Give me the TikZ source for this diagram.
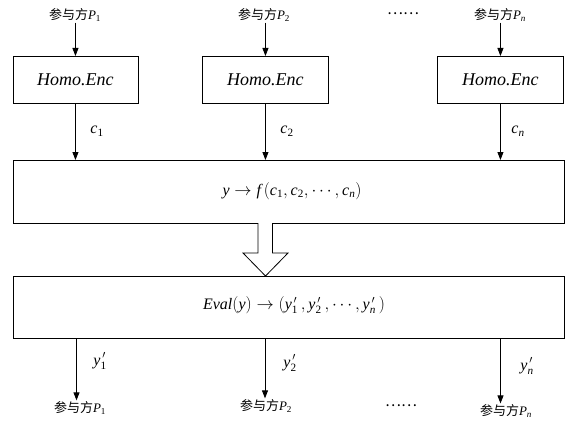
\documentclass[tikz,border=0pt]{standalone}
\usepackage{amstext}
\usepackage{fontspec}
\setmainfont{Liberation Serif}
\newfontfamily\cjk{Noto Sans CJK SC}
\usetikzlibrary{arrows.meta}
\newcommand{\mi}[1]{\textit{#1}}
\newcommand{\dg}[1]{\textrm{#1}}
\begin{document}
\begin{tikzpicture}[x=1pt,y=-1pt,
  box/.style={draw, line width=0.9pt, inner sep=0pt, anchor=north west},
  arr/.style={-{Triangle[length=8pt,width=6pt]}, line width=0.8pt},
  party/.style={font=\fontsize{13}{15}\selectfont, inner sep=1pt},
  lbl/.style={font=\fontsize{16}{18}\selectfont, inner sep=0pt},
  enc/.style={font=\fontsize{18}{20}\selectfont\itshape},
  formula/.style={font=\fontsize{16}{18}\selectfont, inner sep=0pt},
  dotsstyle/.style={font=\fontsize{15}{18}\selectfont\cjk, inner sep=0pt}]
\useasboundingbox (0,0) rectangle (577,425);

% top party labels
\node[party] (p1) at (75,15) {{\cjk 参与方}$\mi{P}_{\dg{1}}$};
\node[party] (p2) at (264,15) {{\cjk 参与方}$\mi{P}_{\dg{2}}$};
\node[party] (pn) at (500,15) {{\cjk 参与方}$\mi{P}_{\mi{n}}$};
\node[dotsstyle] (dt) at (403,14) {……};

% encryption boxes
\node[box, minimum width=125pt, minimum height=47pt] (e1) at (12.5,56) {};
\node[box, minimum width=126pt, minimum height=47pt] (e2) at (202,56) {};
\node[box, minimum width=126pt, minimum height=47pt] (e3) at (437,56) {};
\node[enc] (t1) at (e1.center) {Homo.Enc};
\node[enc] (t2) at (e2.center) {Homo.Enc};
\node[enc] (t3) at (e3.center) {Homo.Enc};

% big boxes
\node[box, minimum width=551pt, minimum height=63pt] (f) at (13,160) {};
\node[box, minimum width=551pt, minimum height=62pt] (g) at (13,276) {};
\node[formula] (ft) at (292,191)
  {$\mi{y}\rightarrow \mi{f}\,(\mi{c}_{\dg{1}},\mi{c}_{\dg{2}},\cdots,\mi{c}_{\mi{n}})$};
\node[formula] (gt) at (294,305)
  {$\mi{Eval}(\mi{y})\rightarrow(\mi{y}_{\dg{1}}^{\,\prime}\,,\mi{y}_{\dg{2}}^{\,\prime}\,,\cdots,\mi{y}_{\mi{n}}^{\,\prime}\,)$};

% bottom party labels
\node[party] (q1) at (80,408) {{\cjk 参与方}$\mi{P}_{\dg{1}}$};
\node[party] (q2) at (266,406) {{\cjk 参与方}$\mi{P}_{\dg{2}}$};
\node[party] (qn) at (506,411) {{\cjk 参与方}$\mi{P}_{\mi{n}}$};
\node[dotsstyle] (db) at (401,406) {……};

% top arrows
\draw[arr] (p1.south -| e1.south) -- (e1.north);
\draw[arr] (p2.south -| e2.south) -- (e2.north);
\draw[arr] (pn.south -| e3.south) -- (e3.north);

% c arrows
\draw[arr] (e1.south) -- (e1.south |- f.north);
\draw[arr] (e2.south) -- (e2.south |- f.north);
\draw[arr] (e3.south) -- (e3.south |- f.north);
\node[lbl] (c1) at (97,131) {$\mi{c}_{\dg{1}}$};
\node[lbl] (c2) at (287,131) {$\mi{c}_{\dg{2}}$};
\node[lbl] (cn) at (518,131) {$\mi{c}_{\mi{n}}$};

% hollow arrow
\draw[line width=0.8pt, fill=white, line join=miter]
  (258,223) -- (258,253) -- (243,253) -- (265.5,276) -- (288,253) -- (272.5,253) -- (272.5,223);

% bottom arrows
\coordinate (b1) at (76.5,338);
\coordinate (b2) at (265,338);
\coordinate (bn) at (500.5,338);
\draw[arr] (b1) -- (b1 |- q1.north);
\draw[arr] (b2) -- (b2 |- q2.north);
\draw[arr] (bn) -- (bn |- qn.north);
\node[lbl] (y1) at (100,361) {$\mi{y}_{\dg{1}}^{\,\prime}$};
\node[lbl] (y2) at (290,363) {$\mi{y}_{\dg{2}}^{\,\prime}$};
\node[lbl] (yn) at (527,366) {$\mi{y}_{\mi{n}}^{\,\prime}$};
\end{tikzpicture}
\end{document}
